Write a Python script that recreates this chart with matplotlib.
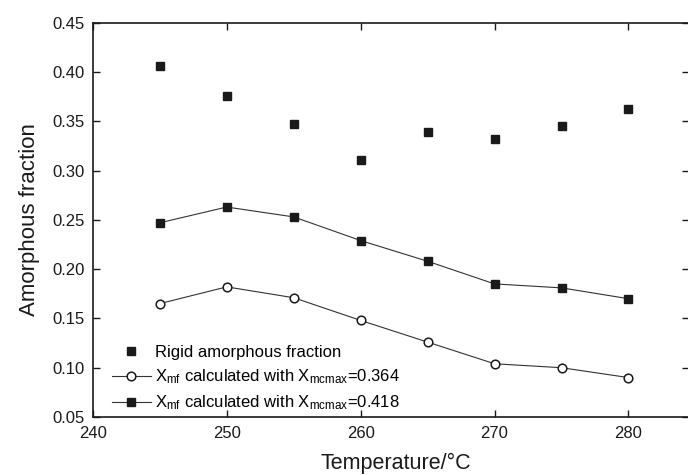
import matplotlib
matplotlib.use('Agg')
import matplotlib.pyplot as plt

# +
# data
# -
temperature = [245, 250, 255, 260, 265, 270, 275, 280]
rigid_amorphous = [0.406, 0.376, 0.347, 0.311, 0.339, 0.332, 0.345, 0.362]
xmf_364 = [0.165, 0.182, 0.171, 0.148, 0.126, 0.104, 0.100, 0.090]
xmf_418 = [0.247, 0.263, 0.253, 0.229, 0.208, 0.185, 0.181, 0.170]
x_ticks = [240, 250, 260, 270, 280]
y_ticks = [0.05, 0.10, 0.15, 0.20, 0.25, 0.30, 0.35, 0.40, 0.45]

plt.rcParams['font.family'] = ['Liberation Sans', 'DejaVu Sans']
plt.rcParams['mathtext.fontset'] = 'custom'
plt.rcParams['mathtext.rm'] = 'Liberation Sans'
plt.rcParams['mathtext.it'] = 'Liberation Sans'

INK = '#1a1a1a'

fig = plt.figure(figsize=(6.88, 4.75), dpi=100)
ax = fig.add_axes([92.8/688, 58/475, 596.2/688, 394.3/475])

ax.plot(temperature, rigid_amorphous, linestyle='none', marker='s', ms=5.8,
        color=INK, label='Rigid amorphous fraction')
ax.plot(temperature, xmf_364, '-', color='#333333', lw=0.8, marker='o', ms=6.2,
        mfc='white', mec=INK, mew=1.1,
        label=r'X$_{\mathrm{mf}}$ calculated with X$_{\mathrm{mcmax}}$=0.364')
ax.plot(temperature, xmf_418, '-', color='#333333', lw=0.8, marker='s', ms=5.8,
        mfc=INK, mec=INK,
        label=r'X$_{\mathrm{mf}}$ calculated with X$_{\mathrm{mcmax}}$=0.418')

ax.set_xlim(240, 284.52)
ax.set_ylim(0.05, 0.45)
ax.set_xticks(x_ticks)
ax.set_yticks(y_ticks)
ax.set_yticklabels([f'{v:.2f}' for v in y_ticks])
ax.tick_params(direction='in', top=True, right=True, labelsize=12,
               length=5, width=1.0, colors=INK)
ax.tick_params(axis='x', pad=6.5)
ax.tick_params(axis='y', pad=6)
for sp in ax.spines.values():
    sp.set_linewidth(1.2)
    sp.set_color(INK)

ax.set_xlabel('Temperature/°C', fontsize=15.5, color=INK)
ax.set_ylabel('Amorphous fraction', fontsize=16, color=INK)
ax.xaxis.set_label_coords(0.509, -0.091)
ax.yaxis.set_label_coords(-0.0886, 0.5)

ax.legend(loc='lower left', bbox_to_anchor=(0.032, 0.012), frameon=False,
          fontsize=12, handlelength=2.35, handletextpad=0.25,
          labelspacing=0.44, borderaxespad=0, borderpad=0)

plt.savefig('out.png', dpi=100)
